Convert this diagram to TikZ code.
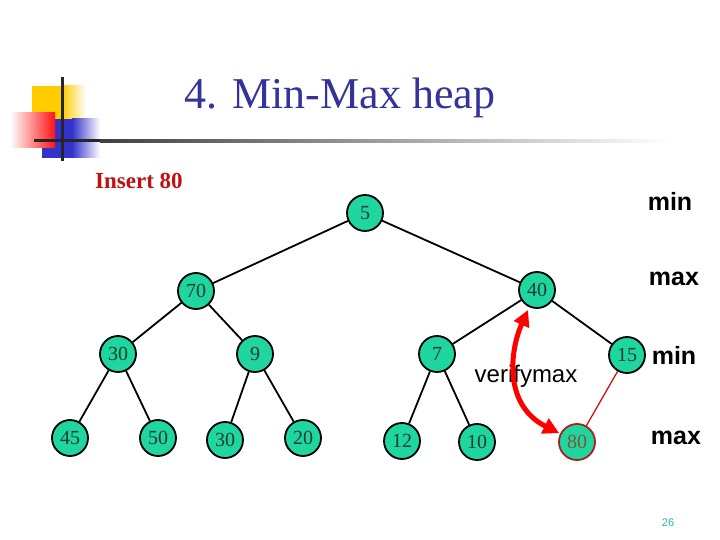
\documentclass[tikz,border=0pt]{standalone}
\usepackage{fontspec}
\setmainfont{Liberation Serif}
\newfontfamily\arialf{Liberation Sans}
\usetikzlibrary{arrows.meta}
\definecolor{ngreen}{RGB}{31,214,160}
\definecolor{ntext}{RGB}{30,60,48}
\definecolor{titleblue}{RGB}{51,51,153}
\definecolor{insred}{RGB}{192,16,16}
\definecolor{logoyellow}{RGB}{255,204,0}
\definecolor{logoblue}{RGB}{51,51,204}
\definecolor{logored}{RGB}{255,20,20}
\definecolor{pgteal}{RGB}{40,180,170}
\definecolor{brown80}{RGB}{130,85,50}
\definecolor{border80}{RGB}{170,30,30}
\tikzset{
  hnode/.style={circle, minimum size=36pt, inner sep=0pt, draw=black, line width=1.8pt,
    fill=ngreen, text=ntext, font=\fontsize{20}{20}\selectfont},
  hedge/.style={draw=black, line width=1.8pt},
  lvl/.style={font=\arialf\bfseries\fontsize{25}{25}\selectfont, text=black},
}
\begin{document}
\begin{tikzpicture}[x=1pt,y=-1pt]
\useasboundingbox (0,0) rectangle (720,540);
% logo
\fill[logoyellow] (32,86) rectangle (62,120);
\shade[left color=logoyellow, right color=white] (62,86) rectangle (86,120);
\fill[logoblue] (42,119) rectangle (72,158);
\shade[left color=logoblue, right color=white] (72,119) rectangle (100,158);
\shade[left color=white, right color=logored] (10,113) rectangle (55,148);
\fill[black!85] (60.5,77) rectangle (63.5,161);
\fill[black!85] (34,139.5) rectangle (100,142.5);
\shade[left color=black!75, right color=white] (100,139.5) rectangle (670,142.5);
% title
\node[text=titleblue, font=\fontsize{44}{44}\selectfont, anchor=base] (title) at (340,109) {4. Min-Max heap};
\node[text=insred, font=\bfseries\fontsize{23}{23}\selectfont, anchor=base west, inner sep=0pt] (ins) at (95,189) {Insert 80};
% nodes
\node[hnode] (n5) at (365,213) {5};
\node[hnode] (n70) at (196,291) {70};
\node[hnode] (n40) at (537,290) {40};
\node[hnode] (n30a) at (118,354) {30};
\node[hnode] (n9) at (255,354) {9};
\node[hnode] (n7) at (437,354) {7};
\node[hnode] (n15) at (627,355) {15};
\node[hnode] (n45) at (70,438) {45};
\node[hnode] (n50) at (158,438) {50};
\node[hnode] (n30b) at (225,440) {30};
\node[hnode] (n20) at (303,438) {20};
\node[hnode] (n12) at (402,441) {12};
\node[hnode] (n10) at (477,442) {10};
\node[hnode, draw=border80, text=brown80] (n80) at (577,442) {80};
% edges
\draw[hedge] (n5) -- (n70);
\draw[hedge] (n5) -- (n40);
\draw[hedge] (n70) -- (n30a);
\draw[hedge] (n70) -- (n9);
\draw[hedge] (n40) -- (n7);
\draw[hedge] (n40) -- (n15);
\draw[hedge] (n30a) -- (n45);
\draw[hedge] (n30a) -- (n50);
\draw[hedge] (n9) -- (n30b);
\draw[hedge] (n9) -- (n20);
\draw[hedge] (n7) -- (n12);
\draw[hedge] (n7) -- (n10);
\draw[draw=red!85!black, line width=1.2pt] (n15) -- (n80);
% level labels
\node[lvl] (l1) at (670,201) {min};
\node[lvl] (l2) at (674,279) {max};
\node[lvl] (l3) at (674,355) {min};
\node[lvl] (l4) at (676,438) {max};
% verify text and arrow
\node[font=\arialf\fontsize{24}{24}\selectfont] (vm) at (526,376) {verifymax};
\draw[red, line width=5pt, {Triangle[length=16pt,width=16pt]}-{Triangle[length=16pt,width=16pt]}, shorten <=3pt, shorten >=1pt]
  (n40) .. controls (510,350) and (503,405) .. (n80);
% page number
\node[text=pgteal, font=\arialf\fontsize{11}{11}\selectfont] (pg) at (668,523) {26};
\end{tikzpicture}
\end{document}
